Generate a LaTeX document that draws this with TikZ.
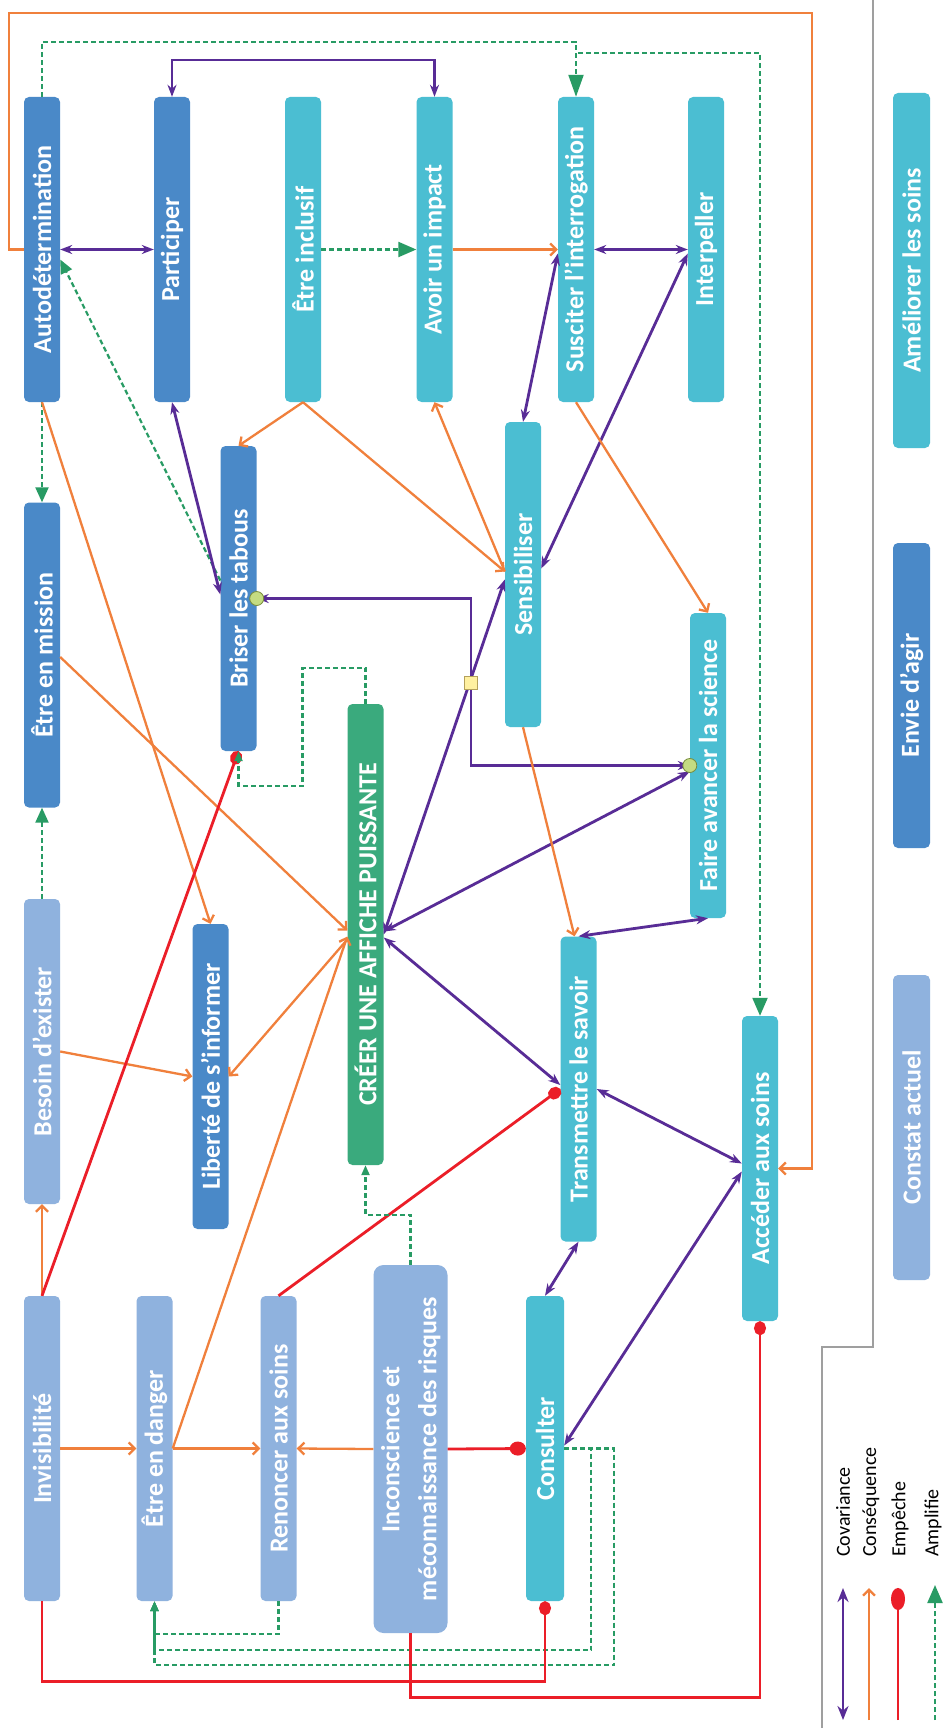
\documentclass[tikz,border=0pt]{standalone}
\usepackage{fontspec}
\setmainfont{Carlito}
\usetikzlibrary{arrows.meta,calc}
\definecolor{cconstat}{RGB}{143,178,222}
\definecolor{cenvie}{RGB}{74,137,200}
\definecolor{camel}{RGB}{75,190,210}
\definecolor{ccreer}{RGB}{58,170,125}
\definecolor{cpurple}{RGB}{88,44,150}
\definecolor{corange}{RGB}{240,128,60}
\definecolor{cred}{RGB}{235,30,40}
\definecolor{cgreen}{RGB}{40,155,100}
\definecolor{cdot}{RGB}{196,220,130}
\definecolor{cdotb}{RGB}{120,140,60}
\definecolor{csq}{RGB}{255,240,160}
\definecolor{csqb}{RGB}{180,160,90}
\begin{document}
\begin{tikzpicture}[x=1pt,y=-1pt,
  box/.style={rectangle, rounded corners=5pt, minimum width=36pt, minimum height=305pt, inner sep=0pt, text=white, font=\bfseries\fontsize{26}{31}\selectfont},
  cov/.style={draw=cpurple, line width=2.8pt, {Stealth[length=12pt,width=9pt]}-{Stealth[length=12pt,width=9pt]}},
  cons/.style={draw=corange, line width=2.3pt, -{Straight Barb[length=6pt,width=12pt]}},
  emp/.style={draw=cred, line width=2.8pt, -{Ellipse[length=14pt,width=12pt]}},
  amp/.style={draw=cgreen, line width=2.2pt, dash pattern=on 5pt off 3pt, -{Triangle[length=18pt,width=15pt]}},
  small/.style={-{Triangle[length=10pt,width=8pt]}},
  dot/.style={circle, draw=cdotb, fill=cdot, line width=0.8pt, minimum size=14pt, inner sep=0pt},
  sq/.style={rectangle, draw=csqb, fill=csq, line width=0.8pt, minimum size=13pt, inner sep=0pt},
  legtext/.style={rotate=90, anchor=west, inner sep=0pt, font=\fontsize{20}{23}\selectfont}
]
\fill[white] (0,0) rectangle (947,1728);
\useasboundingbox (0,0) rectangle (947,1728);

% column 1
\node[box, fill=cenvie] (auto) at (42,249.5) {\rotatebox{90}{Autodétermination}};
\node[box, fill=cenvie] (mission) at (42,655) {\rotatebox{90}{Être en mission}};
\node[box, fill=cconstat] (besoin) at (42,1051.5) {\rotatebox{90}{Besoin d’exister}};
\node[box, fill=cconstat] (invis) at (42,1448.5) {\rotatebox{90}{Invisibilité}};
% column 2
\node[box, fill=cenvie] (particip) at (172,249.5) {\rotatebox{90}{Participer}};
\node[box, fill=cenvie] (briser) at (238.5,598.5) {\rotatebox{90}{Briser les tabous}};
\node[box, fill=cenvie] (liberte) at (210.5,1076.5) {\rotatebox{90}{Liberté de s’informer}};
\node[box, fill=cconstat] (danger) at (154.5,1448.5) {\rotatebox{90}{Être en danger}};
% column 3
\node[box, fill=camel] (inclusif) at (303,249.5) {\rotatebox{90}{Être inclusif}};
\node[box, fill=ccreer, minimum height=461pt] (creer) at (365.5,934.5) {\rotatebox{90}{CRÉER UNE AFFICHE PUISSANTE}};
\node[box, fill=cconstat] (renoncer) at (278.5,1448.5) {\rotatebox{90}{Renoncer aux soins}};
\node[box, fill=cconstat, minimum width=73pt, minimum height=368pt, rounded corners=10pt] (incons) at (410.5,1449) {\rotatebox{90}{\fontsize{26}{37}\selectfont\begin{tabular}{@{}c@{}}Inconscience et\\méconnaissance des risques\end{tabular}}};
% column 4
\node[box, fill=camel] (impact) at (434.5,249.5) {\rotatebox{90}{Avoir un impact}};
\node[box, fill=camel] (sensib) at (523,574.5) {\rotatebox{90}{Sensibiliser}};
\node[box, fill=camel] (transm) at (578.5,1089) {\rotatebox{90}{Transmettre le savoir}};
\node[box, fill=camel, minimum width=38pt] (consult) at (545,1448.5) {\rotatebox{90}{Consulter}};
% column 5
\node[box, fill=camel] (susciter) at (576,249.5) {\rotatebox{90}{Susciter l’interrogation}};
\node[box, fill=camel] (faire) at (708,765.5) {\rotatebox{90}{Faire avancer la science}};
\node[box, fill=camel] (acceder) at (760,1168.5) {\rotatebox{90}{Accéder aux soins}};
% column 6
\node[box, fill=camel] (interp) at (706,249.5) {\rotatebox{90}{Interpeller}};
% legend boxes
\node[box, fill=camel, minimum width=37pt, minimum height=355pt] (leg1) at (911.5,270.5) {\rotatebox{90}{Améliorer les soins}};
\node[box, fill=cenvie, minimum width=37pt] (leg2) at (911.5,695.5) {\rotatebox{90}{Envie d’agir}};
\node[box, fill=cconstat, minimum width=37pt] (leg3) at (911.5,1127.5) {\rotatebox{90}{Constat actuel}};

% separator
\draw[gray!75, line width=1.5pt] (873,0) |- (822,1347) -- (822,1728);

% top row
\draw[cov] (auto.east) -- (particip.west);
\draw[amp] (inclusif.east) -- (impact.west);
\draw[cons] (impact.east) -- (susciter.west);
\draw[cov] (susciter.east) -- (interp.west);
\coordinate (pT) at (300,60);
\draw[cov] (particip.north) |- (pT) -| (impact.north);
\coordinate (gT) at (300,42);
\draw[amp, -{Triangle[length=22pt,width=15pt]}] (auto.north) |- (gT) -| (susciter.north);
\coordinate (gS) at (578,53);
\draw[amp] (gS) -| (acceder.north);
\coordinate (oTL) at (9,13);
\coordinate (oTR) at (812,13);
\draw[cons] (auto.west) -| (oTL) -- (oTR) |- (acceder.east);

% diagonals upper part
\draw[amp, -{Triangle[length=14pt,width=12pt]}] ([shift={(0,-18)}]briser.west) -- ([shift={(0,10)}]auto.east);
\draw[cov] (particip.south) -- ([shift={(0,-4)}]briser.west);
\draw[cons] (inclusif.south) -- (briser.north);
\draw[cons] (inclusif.south) -- ([shift={(0,-3)}]sensib.west);
\draw[cons] ([shift={(0,-3)}]sensib.west) -- (impact.south);
\draw[cov] ([shift={(0,4)}]susciter.west) -- (sensib.north);
\draw[cov] ([shift={(0,4)}]interp.west) -- ([shift={(0,-6)}]sensib.east);
\draw[cons] (susciter.south) -- (faire.north);
\draw[amp, -{Triangle[length=15pt,width=13pt]}] (auto.south) -- (mission.north);
\draw[cons] (auto.south) -- (liberte.north);
\draw[cons] ([shift={(0,2)}]mission.east) -- ([shift={(0,-4)}]creer.west);
\draw[amp, -{Triangle[length=15pt,width=13pt]}] (besoin.north) -- (mission.south);
\draw[cons] (invis.north) -- (besoin.south);
\draw[cons] (besoin.east) -- (liberte.west);
\draw[cons] ([shift={(0,5)}]creer.west) -- (liberte.east);
\draw[emp] (invis.north) -- (briser.south);
\draw[cons] (danger.east) -- ([shift={(0,2)}]creer.west);
\draw[emp] (renoncer.north) -- (transm.west);
\draw[amp, small] (incons.north) -- ++(0,-50) -| (creer.south);
\draw[amp, small] (creer.north) -- ++(0,-36) -- ++(-63,0) -- ++(0,118) -| (briser.south);
\coordinate (pq) at (471,683);
\draw[cov] (briser.east) -| (pq) |- (faire.west);
\draw[cov] ([shift={(0,5)}]sensib.west) -- (creer.east);
\draw[cov] ([shift={(0,6)}]faire.west) -- ([shift={(0,-3)}]creer.east);
\draw[cov] (faire.south) -- (transm.north);
\draw[cons] (sensib.south) -- ([shift={(-4,0)}]transm.north);
\draw[cov] ([shift={(0,3)}]creer.east) -- ([shift={(0,-4)}]transm.west);
\draw[cov] (transm.east) -- ([shift={(0,-5)}]acceder.west);
\draw[cov] (consult.north) -- (transm.south);
\draw[cov] ([shift={(0,-3)}]consult.east) -- ([shift={(0,3)}]acceder.west);
\node[sq] (sqm) at (pq) {};
\node[dot] (d1) at (briser.east) {};
\node[dot] (d2) at (faire.west) {};

% bottom row
\draw[cons] (invis.east) -- (danger.west);
\draw[cons] (danger.east) -- (renoncer.west);
\draw[cons] (incons.west) -- (renoncer.east);
\draw[emp, -{Ellipse[length=16pt,width=14pt]}] (incons.east) -- (consult.west);
\draw[amp, small] (consult.east) -- ++(27,0) -- ++(0,201.5) -| (danger.south);
\draw[amp, small] (consult.east) -- ++(50,0) -- ++(0,216.5) -| (danger.south);
\draw[amp, small] (renoncer.south) -- ++(0,33) -| (danger.south);
\draw[emp] (invis.south) -- ++(0,80) -| (consult.south);
\draw[emp] (incons.south) -- ++(0,64) -| (acceder.south);

% legend
\coordinate (l1a) at (843,1720); \coordinate (l1b) at (843,1588);
\coordinate (l2a) at (869,1720); \coordinate (l2b) at (869,1588);
\coordinate (l3a) at (898,1720); \coordinate (l3b) at (898,1588);
\coordinate (l4a) at (935,1720); \coordinate (l4b) at (935,1585);
\draw[cov, {Stealth[length=14pt,width=11pt]}-{Stealth[length=14pt,width=11pt]}] (l1a) -- (l1b);
\draw[cons] (l2a) -- (l2b);
\draw[emp, -{Ellipse[length=22pt,width=14pt]}] (l3a) -- (l3b);
\draw[amp] (l4a) -- (l4b);
\node[legtext] (t1) at (843,1557) {Covariance};
\node[legtext] (t2) at (871,1557) {Conséquence};
\node[legtext] (t3) at (900,1557) {Empêche};
\node[legtext] (t4) at (933,1557) {Amplifie};
\end{tikzpicture}
\end{document}
